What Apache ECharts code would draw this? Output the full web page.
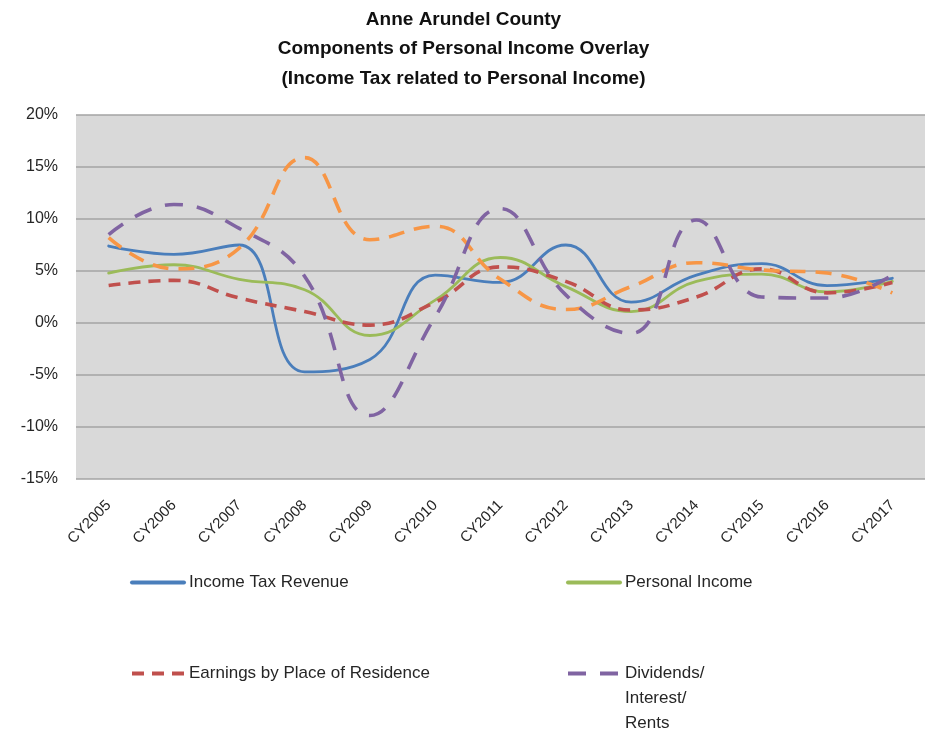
<!DOCTYPE html>
<html>
<head>
<meta charset="utf-8" />
<title>Anne Arundel County - Components of Personal Income Overlay</title>
<script src="https://cdn.jsdelivr.net/npm/echarts@6/dist/echarts.min.js"></script>
<style>
  html, body { margin: 0; padding: 0; background: #fff; }
  #chart { width: 927px; height: 731px; }
</style>
</head>
<body>
<div id="chart"></div>
<script type="text/javascript">
// categories
var years = ['CY2005', 'CY2006', 'CY2007', 'CY2008', 'CY2009', 'CY2010', 'CY2011',
             'CY2012', 'CY2013', 'CY2014', 'CY2015', 'CY2016', 'CY2017'];
// y axis ticks (percent)
var yTicks = [-15, -10, -5, 0, 5, 10, 15, 20];

// series values, % change
var incomeTax   = [7.4, 6.6, 7.5, -4.7, -3.5, 4.6, 3.9, 7.5, 2.0, 4.6, 5.7, 3.6, 4.3];
var personalInc = [4.8, 5.6, 4.2, 3.2, -1.2, 2.2, 6.3, 3.5, 1.1, 4.0, 4.7, 3.0, 4.0];
var earnings    = [3.6, 4.1, 2.4, 1.1, -0.2, 2.0, 5.4, 4.0, 1.25, 2.5, 5.2, 2.9, 3.9];
var otherComp   = [8.2, 5.2, 7.2, 15.9, 8.0, 9.3, 4.2, 1.3, 3.5, 5.8, 5.1, 4.8, 2.9];
var dividends   = [8.5, 11.4, 9.1, 4.5, -8.9, 0.6, 11.0, 2.7, -1.0, 9.9, 2.5, 2.4, 4.6];

var divName = 'Dividends/\nInterest/\nRents';

var myChart = echarts.init(document.getElementById('chart'));

function lineSeries(name, data, color, width, dash) {
    return {
        name: name,
        type: 'line',
        data: data,
        smooth: 0.45,
        symbol: 'none',
        lineStyle: { color: color, width: width, type: dash || 'solid', cap: dash ? 'butt' : 'round' },
        itemStyle: { color: color }
    };
}

var legendBase = {
    orient: 'horizontal',
    itemWidth: 52,
    itemHeight: 14,
    itemGap: 4,
    itemStyle: { opacity: 0 },
    lineStyle: { width: 4 },
    textStyle: { fontFamily: 'Liberation Sans', fontSize: 17, color: '#262626', lineHeight: 25 },
    selectedMode: false
};

var option = {
    animation: false,
    backgroundColor: '#fff',
    title: {
        text: 'Anne Arundel County\nComponents of Personal Income Overlay\n(Income Tax related to Personal Income)',
        left: 'center',
        top: 0,
        textStyle: { fontFamily: 'Liberation Sans', fontSize: 19, fontWeight: 'bold', color: '#111', lineHeight: 29.5 }
    },
    grid: {
        left: 76, right: 2, top: 115, bottom: 252,
        show: true,
        backgroundColor: '#d9d9d9',
        borderWidth: 0
    },
    legend: [
        Object.assign({}, legendBase, { left: 125, top: 565, data: ['Income Tax Revenue'] }),
        Object.assign({}, legendBase, { left: 561, top: 565, data: ['Personal Income'] }),
        Object.assign({}, legendBase, { left: 125, top: 656, data: ['Earnings by Place of Residence'] }),
        Object.assign({}, legendBase, {
            left: 561, top: 606, data: [divName],
            // push the text down so its first line sits beside the icon
            formatter: function (name) { return '\n\n' + name; }
        })
    ],
    xAxis: {
        type: 'category',
        data: years,
        boundaryGap: true,
        axisLine: { show: false },
        axisTick: { show: false },
        axisLabel: {
            interval: 0,
            rotate: 45,
            margin: 24,
            fontFamily: 'Liberation Sans',
            fontSize: 15,
            color: '#262626'
        }
    },
    yAxis: {
        type: 'value',
        min: yTicks[0],
        max: yTicks[yTicks.length - 1],
        interval: 5,
        axisLine: { show: false },
        axisTick: { show: false },
        axisLabel: {
            formatter: '{value}%',
            margin: 18,
            fontFamily: 'Liberation Sans',
            fontSize: 16,
            color: '#262626'
        },
        splitLine: { lineStyle: { color: '#a3a3a3', width: 1.5 } }
    },
    series: [
        lineSeries('Income Tax Revenue', incomeTax, '#4a7ebb', 2.8),
        lineSeries('Personal Income', personalInc, '#9bbb59', 2.8),
        lineSeries('Earnings by Place of Residence', earnings, '#c0504d', 3.6, [12, 8]),
        lineSeries('Other', otherComp, '#f79646', 3.6, [16, 10]),
        lineSeries(divName, dividends, '#8064a2', 3.6, [18, 14])
    ]
};
myChart.setOption(option);
</script>
</body>
</html>
